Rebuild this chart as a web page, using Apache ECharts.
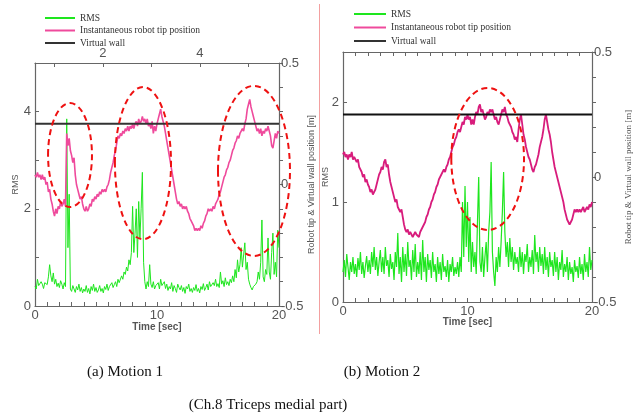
<!DOCTYPE html>
<html lang="en">
<head>
<meta charset="UTF-8">
<title>Ch.8 Triceps medial part</title>
<style>
  html, body { margin: 0; padding: 0; background: #fff; }
  #chart { width: 634px; height: 416px; }
</style>
</head>
<body>
<div id="chart"></div>
<script src="https://cdn.jsdelivr.net/npm/echarts@6/dist/echarts.min.js"></script>
<script>
// sampling step of all series [sec]
var step = 0.1

// (a) Motion 1 : RMS (left axis) and robot tip position [m] (right axis)
var rms1 = [
  0.40, 0.35, 0.55, 0.42, 0.38, 0.50, 0.45, 0.36, 0.48, 0.52,
  0.44, 0.60, 0.85, 0.62, 0.50, 0.68, 0.45, 0.55, 0.40, 0.47,
  0.38, 0.52, 0.45, 0.35, 0.48, 0.40, 3.85, 1.20, 2.30, 0.35,
  0.30, 0.42, 0.35, 0.28, 0.40, 0.33, 0.45, 0.30, 0.38, 0.27,
  0.35, 0.30, 0.42, 0.28, 0.36, 0.25, 0.40, 0.32, 0.45, 0.30,
  0.38, 0.28, 0.33, 0.42, 0.30, 0.36, 0.27, 0.40, 0.34, 0.45,
  0.32, 0.40, 0.36, 0.48, 0.38, 0.44, 0.50, 0.40, 0.55, 0.48,
  0.52, 0.62, 0.55, 0.70, 0.65, 0.80, 0.72, 0.95, 0.85, 1.10,
  2.05, 1.10, 1.50, 2.00, 1.00, 2.15, 1.40, 2.00, 2.75, 0.90,
  0.50, 0.35, 0.50, 0.40, 0.85, 0.45, 0.38, 0.50, 0.35, 0.42,
  0.40, 0.48, 0.35, 0.55, 0.42, 0.38, 0.50, 0.36, 0.45, 0.32,
  0.40, 0.35, 0.48, 0.30, 0.42, 0.36, 0.28, 0.45, 0.38, 0.33,
  0.42, 0.30, 0.38, 0.26, 0.40, 0.35, 0.45, 0.30, 0.36, 0.28,
  0.38, 0.32, 0.44, 0.30, 0.36, 0.27, 0.40, 0.34, 0.46, 0.32,
  0.38, 0.45, 0.33, 0.50, 0.40, 0.36, 0.48, 0.42, 0.55, 0.40,
  0.46, 0.38, 0.70, 0.45, 0.52, 0.40, 0.58, 0.44, 0.50, 0.42,
  0.55, 0.48, 0.62, 0.50, 0.75, 0.58, 0.95, 0.70, 0.85, 1.20,
  0.80, 1.05, 1.30, 0.75, 0.90, 0.55, 0.45, 0.38, 0.33, 0.40,
  0.36, 0.45, 0.50, 0.70, 0.55, 0.90, 1.77, 0.60, 0.50, 0.75,
  0.65, 1.40, 0.70, 0.55, 1.10, 1.50, 0.65, 0.90, 0.60, 1.56,
  1.20
]
var pos1 = [
  0.04, 0.03, 0.05, 0.03, 0.04, 0.02, 0.04, 0.02, 0.03, 0.00,
  0.01, -0.03, -0.02, -0.06, -0.08, -0.11, -0.13, -0.10, -0.12, -0.09,
  -0.10, -0.07, -0.09, -0.08, -0.06, -0.09, 0.21, 0.16, 0.19, 0.14,
  0.12, 0.09, 0.11, 0.04, 0.00, -0.02, -0.04, -0.06, -0.05, -0.08,
  -0.10, -0.11, -0.09, -0.11, -0.10, -0.08, -0.09, -0.06, -0.07, -0.05,
  -0.06, -0.04, -0.05, -0.03, -0.04, -0.02, -0.03, -0.02, -0.03, -0.01,
  0.00, 0.02, 0.05, 0.07, 0.09, 0.12, 0.14, 0.17, 0.20, 0.19,
  0.21, 0.20, 0.22, 0.21, 0.23, 0.22, 0.24, 0.22, 0.24, 0.23,
  0.25, 0.23, 0.25, 0.26, 0.24, 0.27, 0.25, 0.26, 0.28, 0.26,
  0.27, 0.25, 0.27, 0.24, 0.25, 0.23, 0.26, 0.21, 0.24, 0.22,
  0.25, 0.27, 0.29, 0.31, 0.28, 0.26, 0.24, 0.21, 0.18, 0.15,
  0.12, 0.09, 0.06, 0.03, 0.00, -0.03, -0.06, -0.08, -0.07, -0.09,
  -0.08, -0.10, -0.09, -0.10, -0.09, -0.11, -0.12, -0.14, -0.15, -0.16,
  -0.17, -0.19, -0.18, -0.19, -0.18, -0.19, -0.17, -0.18, -0.16, -0.15,
  -0.13, -0.12, -0.10, -0.11, -0.10, -0.11, -0.09, -0.10, -0.08, -0.07,
  -0.06, -0.04, -0.03, -0.01, 0.01, 0.03, 0.04, 0.06, 0.07, 0.09,
  0.10, 0.12, 0.14, 0.15, 0.17, 0.18, 0.20, 0.19, 0.21, 0.22,
  0.23, 0.22, 0.25, 0.27, 0.31, 0.33, 0.35, 0.32, 0.30, 0.28,
  0.26, 0.24, 0.22, 0.23, 0.21, 0.23, 0.20, 0.22, 0.21, 0.23,
  0.22, 0.24, 0.22, 0.20, 0.16, 0.15, 0.18, 0.21, 0.19, 0.22,
  0.21
]

// (b) Motion 2
var rms2 = [
  0.30, 0.42, 0.25, 0.48, 0.35, 0.22, 0.40, 0.30, 0.45, 0.28,
  0.38, 0.25, 0.44, 0.32, 0.50, 0.28, 0.40, 0.24, 0.36, 0.46,
  0.30, 0.42, 0.28, 0.50, 0.35, 0.55, 0.32, 0.45, 0.26, 0.40,
  0.52, 0.30, 0.45, 0.28, 0.55, 0.36, 0.42, 0.25, 0.48, 0.33,
  0.40, 0.22, 0.50, 0.35, 0.69, 0.28, 0.45, 0.20, 0.55, 0.30,
  0.48, 0.26, 0.60, 0.35, 0.42, 0.22, 0.52, 0.30, 0.58, 0.25,
  0.40, 0.28, 0.50, 0.22, 0.62, 0.30, 0.45, 0.20, 0.48, 0.32,
  0.42, 0.24, 0.50, 0.30, 0.38, 0.20, 0.45, 0.28, 0.40, 0.22,
  0.48, 0.30, 0.36, 0.25, 0.42, 0.20, 0.38, 0.30, 0.45, 0.26,
  0.35, 0.28, 0.40, 0.25, 0.45, 0.30, 1.00, 0.45, 1.16, 0.55,
  1.00, 0.40, 0.85, 0.30, 0.60, 0.35, 0.50, 0.28, 0.80, 1.25,
  0.40, 0.30, 0.55, 0.25, 0.45, 0.60, 0.30, 0.70, 0.90, 1.40,
  0.50, 0.30, 0.16, 0.45, 0.30, 0.55, 0.35, 0.60, 0.90, 1.30,
  0.70, 0.45, 0.60, 0.35, 0.64, 0.40, 0.55, 0.32, 0.50, 0.38,
  0.45, 0.30, 0.55, 0.35, 0.50, 0.28, 0.48, 0.40, 0.58, 0.30,
  0.45, 0.35, 0.52, 0.28, 0.67, 0.40, 0.50, 0.30, 0.55, 0.36,
  0.48, 0.28, 0.55, 0.32, 0.45, 0.25, 0.50, 0.35, 0.42, 0.26,
  0.50, 0.30, 0.45, 0.22, 0.40, 0.32, 0.52, 0.25, 0.38, 0.30,
  0.45, 0.22, 0.40, 0.28, 0.35, 0.20, 0.42, 0.30, 0.36, 0.24,
  0.45, 0.28, 0.38, 0.22, 0.48, 0.30, 0.40, 0.25, 0.55, 0.32,
  0.42
]
var pos2 = [
  0.09, 0.10, 0.08, 0.09, 0.07, 0.09, 0.08, 0.10, 0.07, 0.08,
  0.07, 0.06, 0.07, 0.04, 0.03, 0.02, 0.00, 0.01, -0.02, -0.01,
  -0.03, -0.04, -0.06, -0.05, -0.07, -0.07, -0.05, -0.03, -0.01, 0.01,
  0.02, 0.04, 0.03, 0.06, 0.07, 0.04, 0.05, 0.01, -0.02, -0.04,
  -0.06, -0.08, -0.10, -0.09, -0.12, -0.13, -0.14, -0.13, -0.16, -0.19,
  -0.21, -0.22, -0.21, -0.23, -0.22, -0.23, -0.24, -0.23, -0.22, -0.23,
  -0.23, -0.24, -0.22, -0.21, -0.20, -0.19, -0.18, -0.16, -0.15, -0.13,
  -0.12, -0.10, -0.09, -0.07, -0.06, -0.04, -0.03, -0.01, 0.00, 0.01,
  0.01, 0.03, 0.02, 0.04, 0.05, 0.07, 0.08, 0.10, 0.12, 0.13,
  0.15, 0.16, 0.18, 0.19, 0.18, 0.20, 0.22, 0.21, 0.24, 0.23,
  0.25, 0.23, 0.24, 0.21, 0.23, 0.21, 0.24, 0.26, 0.25, 0.28,
  0.29, 0.26, 0.27, 0.25, 0.23, 0.24, 0.26, 0.25, 0.27, 0.26,
  0.27, 0.25, 0.23, 0.24, 0.22, 0.21, 0.23, 0.25, 0.27, 0.26,
  0.28, 0.25, 0.24, 0.22, 0.21, 0.20, 0.18, 0.17, 0.15, 0.16,
  0.14, 0.19, 0.23, 0.25, 0.21, 0.17, 0.15, 0.12, 0.10, 0.08,
  0.07, 0.05, 0.03, 0.02, 0.04, 0.05, 0.07, 0.09, 0.12, 0.14,
  0.16, 0.19, 0.23, 0.25, 0.22, 0.19, 0.17, 0.14, 0.10, 0.07,
  0.04, 0.02, 0.00, -0.02, -0.04, -0.06, -0.08, -0.10, -0.13, -0.15,
  -0.17, -0.18, -0.19, -0.19, -0.17, -0.15, -0.13, -0.14, -0.13, -0.14,
  -0.13, -0.14, -0.13, -0.12, -0.14, -0.13, -0.12, -0.13, -0.11, -0.12,
  -0.10
]

// virtual wall position [m]
var wall1 = 0.25
var wall2 = 0.25

// tick labels
var timeLabels = [0, 10, 20]
var rmsLabels1 = [0, 2, 4]
var rmsLabels2 = [0, 1, 2]
var posLabels = [-0.5, 0, 0.5]
// leftover top axis of panel (a)
var topLabels = [2, 4]
var topTicks = [1, 2, 3, 4, 5]

// dashed rings, in data units: [time, position, half width (sec), half height (m)]
var rings1 = [[2.87, 0.121, 1.8, 0.214], [8.85, 0.088, 2.3, 0.313], [17.95, 0.056, 2.95, 0.35]]
var rings2 = [[11.62, 0.072, 2.92, 0.284]]

var green = '#1ee61e'
var pink1 = '#ef4a9c'
var pink2 = '#d81c7c'
var sans = 'Liberation Sans'
var serif = 'Liberation Serif'

function pairs(arr) {
  return arr.map(function (v, i) { return [+(i * step).toFixed(1), v] })
}

var axisLine = { show: true, onZero: false, lineStyle: { color: '#666', width: 1.2 } }
var tickIn = { show: true, inside: true, length: 4, lineStyle: { color: '#666' } }
var labelFont = { fontFamily: sans, fontSize: 13, color: '#555' }

function timeAxis(grid, nameGap) {
  return {
    type: 'value', gridIndex: grid, min: 0, max: 20, interval: 1,
    name: 'Time [sec]', nameLocation: 'middle', nameGap: nameGap, nameMoveOverlap: false,
    nameTextStyle: { fontFamily: sans, fontSize: 10, fontWeight: 'bold', color: '#555' },
    axisLine: axisLine, axisTick: tickIn, splitLine: { show: false },
    axisLabel: Object.assign({ margin: 3, customValues: timeLabels }, labelFont)
  }
}

function posAxis(grid, nameGap, font) {
  return {
    type: 'value', gridIndex: grid, position: 'right', min: -0.5, max: 0.5, interval: 0.1,
    name: 'Robot tip & Virtual wall position [m]', nameLocation: 'middle', nameGap: nameGap,
    nameRotate: 90, nameMoveOverlap: false,
    nameTextStyle: { fontFamily: font, fontSize: 9, color: '#555' },
    axisLine: axisLine, axisTick: { show: true, inside: false, length: 4, lineStyle: { color: '#666' } },
    splitLine: { show: false },
    axisLabel: Object.assign({ margin: 2, customValues: posLabels }, labelFont)
  }
}

function rmsAxis(grid, max, labels, nameGap) {
  return {
    type: 'value', gridIndex: grid, position: 'left', min: 0, max: max, interval: 1,
    name: 'RMS', nameLocation: 'middle', nameGap: nameGap, nameRotate: 90, nameMoveOverlap: false,
    nameTextStyle: { fontFamily: sans, fontSize: 9, color: '#555' },
    axisLine: axisLine, axisTick: tickIn, splitLine: { show: false },
    axisLabel: Object.assign({ margin: 4, customValues: labels }, labelFont)
  }
}

function lineSeries(name, x, y, data, color, width) {
  return {
    name: name, type: 'line', xAxisIndex: x, yAxisIndex: y, data: data,
    showSymbol: false, symbol: 'none', color: color,
    lineStyle: { color: color, width: width }
  }
}

var legendText = { fontFamily: serif, fontSize: 9.5, color: '#333', lineHeight: 10 }
var legendNames = ['RMS', 'Instantaneous robot tip position', 'Virtual wall']

var option = {
  animation: false,
  backgroundColor: '#fff',
  legend: [
    { left: 40, top: 8, orient: 'vertical', icon: 'rect', itemWidth: 30, itemHeight: 2, itemGap: 2.5,
      data: legendNames, textStyle: legendText, selectedMode: false },
    { left: 349, top: 4, orient: 'vertical', icon: 'rect', itemWidth: 32, itemHeight: 2, itemGap: 3.5,
      data: legendNames, textStyle: legendText, selectedMode: false }
  ],
  grid: [
    { left: 35, top: 63, width: 244, height: 243 },
    { left: 343, top: 52, width: 253, height: 250 }
  ],
  xAxis: [
    timeAxis(0, 16),
    {
      type: 'value', gridIndex: 0, position: 'top', min: 0.6, max: 5.63,
      axisLine: axisLine, splitLine: { show: false },
      axisTick: { show: true, inside: true, length: 4, customValues: topTicks, lineStyle: { color: '#666' } },
      axisLabel: Object.assign({ margin: 3, customValues: topLabels }, labelFont)
    },
    timeAxis(1, 15),
    {
      type: 'value', gridIndex: 1, position: 'top', min: 0, max: 20, interval: 1,
      axisLine: axisLine, axisTick: tickIn, axisLabel: { show: false }, splitLine: { show: false }
    }
  ],
  yAxis: [
    rmsAxis(0, 5, rmsLabels1, 15),
    posAxis(0, 28, sans),
    rmsAxis(1, 2.5, rmsLabels2, 13),
    posAxis(1, 32, serif)
  ],
  series: [
    lineSeries('RMS', 0, 0, pairs(rms1), green, 1),
    lineSeries('Instantaneous robot tip position', 0, 1, pairs(pos1), pink1, 1.6),
    lineSeries('Virtual wall', 0, 1, [[0, wall1], [20, wall1]], '#333', 2),
    lineSeries('RMS', 2, 2, pairs(rms2), green, 1.2),
    lineSeries('Instantaneous robot tip position', 2, 3, pairs(pos2), pink2, 1.8),
    lineSeries('Virtual wall', 2, 3, [[0, wall2], [20, wall2]], '#111', 2)
  ]
}

var chart = echarts.init(document.getElementById('chart'), null, { renderer: 'canvas' })
chart.setOption(option)

// dashed rings and captions
function ringShapes(rings, xi, yi) {
  return rings.map(function (r) {
    var c = chart.convertToPixel({ xAxisIndex: xi, yAxisIndex: yi }, [r[0], r[1]])
    var e = chart.convertToPixel({ xAxisIndex: xi, yAxisIndex: yi }, [r[0] + r[2], r[1] + r[3]])
    return {
      type: 'ellipse', z: 100,
      shape: { cx: c[0], cy: c[1], rx: Math.abs(e[0] - c[0]), ry: Math.abs(c[1] - e[1]) },
      style: { fill: null, stroke: '#ee1111', lineWidth: 2, lineDash: [6, 4] }
    }
  })
}

var capStyle = { fontFamily: serif, fontSize: 15, fill: '#111', textAlign: 'center', textVerticalAlign: 'middle' }
var graphics = [].concat(
  ringShapes(rings1, 0, 1),
  ringShapes(rings2, 2, 3),
  [
    { type: 'line', shape: { x1: 319.5, y1: 4, x2: 319.5, y2: 334 }, style: { stroke: '#f3a0a0', lineWidth: 1 } },
    { type: 'text', x: 125, y: 372, style: Object.assign({ text: '(a) Motion 1' }, capStyle) },
    { type: 'text', x: 382, y: 372, style: Object.assign({ text: '(b) Motion 2' }, capStyle) },
    { type: 'text', x: 268, y: 405, style: Object.assign({ text: '(Ch.8 Triceps medial part)' }, capStyle) }
  ]
)
chart.setOption({ graphic: graphics })
</script>
</body>
</html>
